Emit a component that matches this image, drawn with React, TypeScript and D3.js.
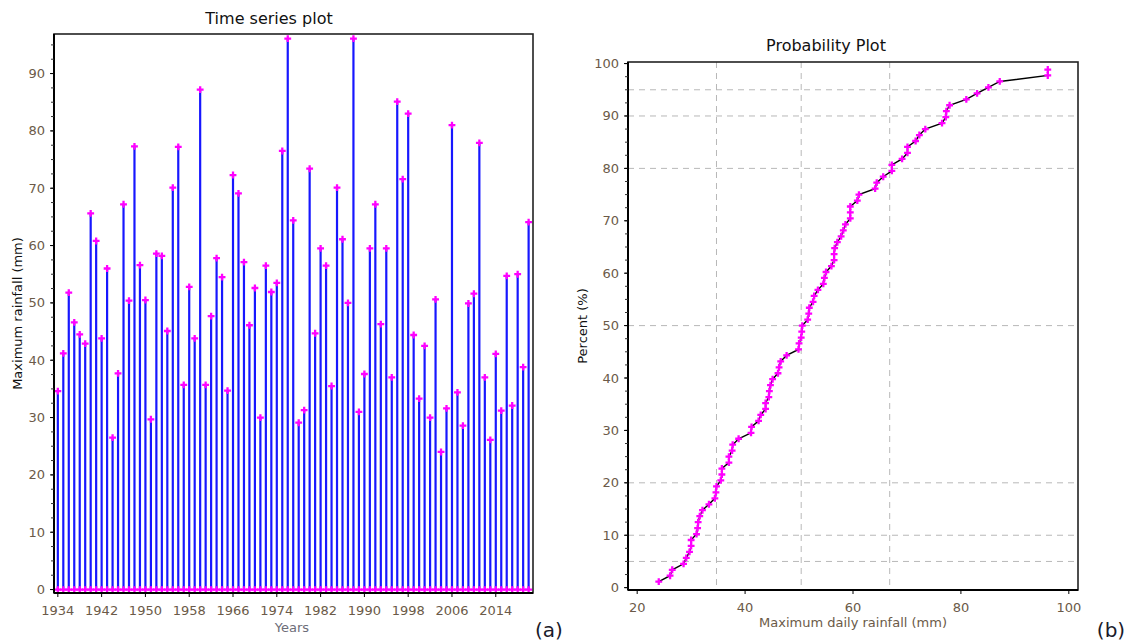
import React from "react"
import * as d3 from "d3"

// annual maximum daily rainfall
const years = [
  1934, 1935, 1936, 1937, 1938, 1939, 1940, 1941, 1942, 1943,
  1944, 1945, 1946, 1947, 1948, 1949, 1950, 1951, 1952, 1953,
  1954, 1955, 1956, 1957, 1958, 1959, 1960, 1961, 1962, 1963,
  1964, 1965, 1966, 1967, 1968, 1969, 1970, 1971, 1972, 1973,
  1974, 1975, 1976, 1977, 1978, 1979, 1980, 1981, 1982, 1983,
  1984, 1985, 1986, 1987, 1988, 1989, 1990, 1991, 1992, 1993,
  1994, 1995, 1996, 1997, 1998, 1999, 2000, 2001, 2002, 2003,
  2004, 2005, 2006, 2007, 2008, 2009, 2010, 2011, 2012, 2013,
  2014, 2015, 2016, 2017, 2018, 2019, 2020
]
const maxRain = [
  34.6, 41.2, 51.8, 46.6, 44.5, 42.9, 65.6, 60.8, 43.8, 56.0,
  26.5, 37.7, 67.2, 50.4, 77.3, 56.6, 50.5, 29.7, 58.6, 58.2,
  45.1, 70.1, 77.2, 35.7, 52.8, 43.8, 87.2, 35.7, 47.7, 57.8,
  54.5, 34.7, 72.3, 69.1, 57.1, 46.1, 52.6, 30.0, 56.5, 51.9,
  53.5, 76.5, 96.1, 64.4, 29.1, 31.3, 73.4, 44.7, 59.5, 56.5,
  35.5, 70.1, 61.1, 50.0, 96.1, 31.0, 37.6, 59.5, 67.2, 46.3,
  59.5, 37.0, 85.1, 71.6, 83.0, 44.4, 33.3, 42.5, 30.0, 50.6,
  24.0, 31.6, 81.0, 34.4, 28.6, 49.9, 51.6, 77.9, 37.0, 26.1,
  41.1, 31.2, 54.7, 32.1, 55.0, 38.8, 64.1
]

const yearTicks = [1934, 1942, 1950, 1958, 1966, 1974, 1982, 1990, 1998, 2006, 2014]
const rainTicks = [0, 10, 20, 30, 40, 50, 60, 70, 80, 90]
const pctTicks = [0, 10, 20, 30, 40, 50, 60, 70, 80, 90, 100]
const probXTicks = [20, 40, 60, 80, 100]
const pctGrid = [5, 10, 20, 50, 80, 90, 95]
const rainGrid = [34.7, 50.4, 66.8]

const W = 1133
const H = 643
const font = "DejaVu Sans, Verdana, sans-serif"
const tickColor = "#6b5a48"

const ts = { left: 54, right: 533, top: 34, bottom: 593 }
const pp = { left: 628, right: 1078, top: 62, bottom: 590 }

const xYear = d3.scaleLinear().domain([1933.3, 2020.8]).range([ts.left, ts.right])
const yRain = d3.scaleLinear().domain([-0.6, 96.9]).range([ts.bottom, ts.top])

const xProb = d3.scaleLinear().domain([18.3, 101.7]).range([pp.left, pp.right])
const yPct = d3.scaleLinear().domain([-0.45, 100.3]).range([pp.bottom, pp.top])

// probability plot: sorted sample vs Weibull plotting position i/(n+1)
const sorted = [...maxRain].sort((a, b) => a - b)
const probPoints: [number, number][] = sorted.map((v, i) => [v, ((i + 1) / (sorted.length + 1)) * 100])

const marker = d3.symbol(d3.symbolCross, 26)() as string
const probLine = d3
  .line<[number, number]>()
  .x(d => xProb(d[0]))
  .y(d => yPct(d[1]))

export default function App() {
  const minorRain = d3.range(0, 96, 2.5)
  const minorPct = d3.range(0, 100.1, 2.5)

  return (
    <div style={{ position: "absolute", left: 0, top: 0, background: "white" }}>
      <svg width={W} height={H} style={{ display: "block", fontFamily: font }}>
        <rect width={W} height={H} fill="white" />

        {/* ---------- (a) time series ---------- */}
        <text x={269} y={24} textAnchor="middle" fontSize={16} fill="#111">
          Time series plot
        </text>

        <g>
          {years.map((yr, i) => (
            <line
              key={"s" + yr}
              x1={xYear(yr)}
              x2={xYear(yr)}
              y1={yRain(0)}
              y2={yRain(maxRain[i])}
              stroke="#1717ff"
              strokeWidth={2.2}
            />
          ))}
          {years.map(yr => (
            <path key={"b" + yr} d={marker} transform={`translate(${xYear(yr)},${yRain(0)})`} fill="#ff00ff" />
          ))}
          {years.map((yr, i) => (
            <path
              key={"t" + yr}
              d={marker}
              transform={`translate(${xYear(yr)},${yRain(maxRain[i])})`}
              fill="#ff00ff"
            />
          ))}
        </g>

        <rect
          x={ts.left}
          y={ts.top}
          width={ts.right - ts.left}
          height={ts.bottom - ts.top}
          fill="none"
          stroke="#222"
          strokeWidth={1.6}
        />
        <line x1={ts.left} x2={ts.left} y1={ts.top} y2={ts.bottom} stroke="#000" strokeWidth={2} />
        <line x1={ts.left} x2={ts.right} y1={ts.bottom} y2={ts.bottom} stroke="#000" strokeWidth={2} />

        {minorRain.map(v => (
          <line key={"mr" + v} x1={ts.left - 3} x2={ts.left} y1={yRain(v)} y2={yRain(v)} stroke="#333" strokeWidth={1} />
        ))}
        {rainTicks.map(v => (
          <g key={"rt" + v}>
            <line x1={ts.left - 4} x2={ts.left} y1={yRain(v)} y2={yRain(v)} stroke="#000" strokeWidth={1} />
            <text x={45} y={yRain(v) + 4.5} textAnchor="end" fontSize={13} fill={tickColor}>
              {v}
            </text>
          </g>
        ))}
        {yearTicks.map(yr => (
          <g key={"yt" + yr}>
            <line x1={xYear(yr)} x2={xYear(yr)} y1={ts.bottom} y2={ts.bottom + 4} stroke="#000" strokeWidth={1} />
            <text x={xYear(yr)} y={615} textAnchor="middle" fontSize={13} fill={tickColor}>
              {yr}
            </text>
          </g>
        ))}

        <text x={292} y={632} textAnchor="middle" fontSize={13} fill="#6d6d78">
          Years
        </text>
        <text
          transform={`translate(22,${(ts.top + ts.bottom) / 2}) rotate(-90)`}
          textAnchor="middle"
          fontSize={13}
          fill="#111"
        >
          Maximum rainfall (mm)
        </text>
        <text x={549} y={637} textAnchor="middle" fontSize={20} fill="#1a1a2a">
          (a)
        </text>

        {/* ---------- (b) probability plot ---------- */}
        <text x={826} y={51} textAnchor="middle" fontSize={16} fill="#111">
          Probability Plot
        </text>

        <g stroke="#b8b8b8" strokeWidth={1} strokeDasharray="6 5">
          {pctGrid.map(p => (
            <line key={"hg" + p} x1={pp.left} x2={pp.right} y1={yPct(p)} y2={yPct(p)} />
          ))}
          {rainGrid.map(r => (
            <line key={"vg" + r} x1={xProb(r)} x2={xProb(r)} y1={pp.top} y2={pp.bottom} />
          ))}
        </g>

        <path d={probLine(probPoints) ?? ""} fill="none" stroke="#000" strokeWidth={1.4} />
        {probPoints.map((d, i) => (
          <path key={"pp" + i} d={marker} transform={`translate(${xProb(d[0])},${yPct(d[1])})`} fill="#ff00ff" />
        ))}

        <rect
          x={pp.left}
          y={pp.top}
          width={pp.right - pp.left}
          height={pp.bottom - pp.top}
          fill="none"
          stroke="#222"
          strokeWidth={1.6}
        />
        <line x1={pp.left} x2={pp.left} y1={pp.top} y2={pp.bottom} stroke="#000" strokeWidth={2} />
        <line x1={pp.left} x2={pp.right} y1={pp.bottom} y2={pp.bottom} stroke="#000" strokeWidth={2} />

        {minorPct.map(v => (
          <line key={"mp" + v} x1={pp.left - 3} x2={pp.left} y1={yPct(v)} y2={yPct(v)} stroke="#333" strokeWidth={1} />
        ))}
        {pctTicks.map(v => (
          <g key={"pt" + v}>
            <line x1={pp.left - 4} x2={pp.left} y1={yPct(v)} y2={yPct(v)} stroke="#000" strokeWidth={1} />
            <text x={619} y={yPct(v) + 4.5} textAnchor="end" fontSize={13} fill={tickColor}>
              {v}
            </text>
          </g>
        ))}
        {probXTicks.map(v => (
          <g key={"px" + v}>
            <line x1={xProb(v)} x2={xProb(v)} y1={pp.bottom} y2={pp.bottom + 4} stroke="#000" strokeWidth={1} />
            <text x={xProb(v)} y={612} textAnchor="middle" fontSize={13} fill={tickColor}>
              {v}
            </text>
          </g>
        ))}

        <text x={853} y={627} textAnchor="middle" fontSize={13} fill={tickColor}>
          Maximum daily rainfall (mm)
        </text>
        <text
          transform={`translate(587,${(pp.top + pp.bottom) / 2}) rotate(-90)`}
          textAnchor="middle"
          fontSize={13}
          fill="#111"
        >
          Percent (%)
        </text>
        <text x={1111} y={637} textAnchor="middle" fontSize={20} fill="#1a1a2a">
          (b)
        </text>
      </svg>
    </div>
  )
}
